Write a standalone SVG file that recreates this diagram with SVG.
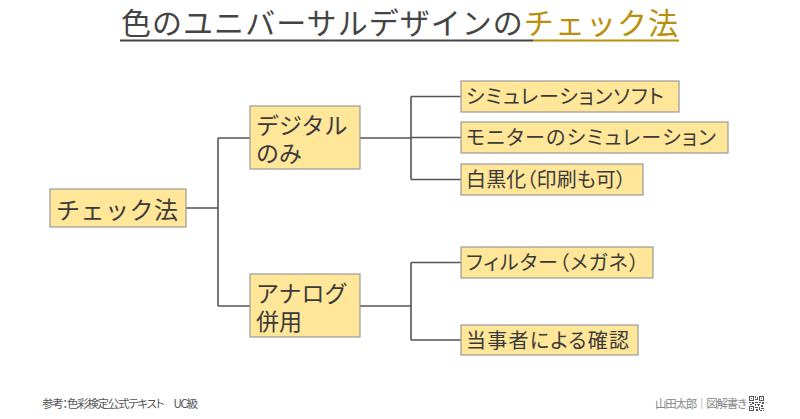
<svg xmlns="http://www.w3.org/2000/svg" width="800" height="419" viewBox="0 0 800 419">
<style>
  text { font-family: "Noto Sans CJK JP", "Noto Sans", sans-serif; }
  .box { fill: #FFE699; stroke: #9a9a9a; stroke-width: 1.2; }
  .t1 { font-size: 24px; fill: #3a3a3a; }
  .t2 { font-size: 23px; fill: #3a3a3a; }
  .t3 { font-size: 20px; fill: #3a3a3a; font-feature-settings: "palt"; }
  .conn { fill: none; stroke: #555; stroke-width: 1.6; }
  .foot { font-size: 11.5px; fill: #555; font-feature-settings: "palt"; }
</style>
<rect width="800" height="419" fill="#fff"/>

<g id="title">
  <text x="121" y="34" font-size="30" textLength="557" lengthAdjust="spacing" fill="#444">色のユニバーサルデザインの<tspan fill="#B8900B">チェック法</tspan></text>
  <line x1="120" y1="40.5" x2="533" y2="40.5" stroke="#444" stroke-width="2"/>
  <line x1="533" y1="40.5" x2="679" y2="40.5" stroke="#B8900B" stroke-width="2"/>
</g>

<g id="connectors">
  <path class="conn" d="M186 208 H218 M218 138 V306 M218 138 H250 M218 306 H250"/>
  <path class="conn" d="M360 138 H411 M411 96.5 V179.5 M411 96.5 H461 M411 137.5 H461 M411 179.5 H461"/>
  <path class="conn" d="M360 306 H411 M411 262.5 V340 M411 262.5 H461 M411 340 H461"/>
</g>

<g id="node-root">
  <rect class="box" x="50" y="189" width="136" height="38"/>
  <text class="t1" x="56" y="219" textLength="122" lengthAdjust="spacing">チェック法</text>
</g>
<g id="node-digital">
  <rect class="box" x="250" y="106" width="110" height="63"/>
  <text class="t2"><tspan x="256" y="133.5">デジタル</tspan><tspan x="256" y="162">のみ</tspan></text>
</g>
<g id="node-analog">
  <rect class="box" x="250" y="274" width="110" height="63"/>
  <text class="t2"><tspan x="256" y="301.5">アナログ</tspan><tspan x="256" y="330">併用</tspan></text>
</g>
<g id="node-sim-soft">
  <rect class="box" x="461" y="81" width="218" height="31"/>
  <text class="t3" x="466" y="104" textLength="198" lengthAdjust="spacing">シミュレーションソフト</text>
</g>
<g id="node-monitor">
  <rect class="box" x="461" y="122" width="267" height="31"/>
  <text class="t3" x="466" y="145" textLength="250" lengthAdjust="spacing">モニターのシミュレーション</text>
</g>
<g id="node-bw">
  <rect class="box" x="461" y="164" width="182" height="31"/>
  <text class="t3" x="466" y="187" textLength="160" lengthAdjust="spacing">白黒化（印刷も可）</text>
</g>
<g id="node-filter">
  <rect class="box" x="461" y="247" width="192" height="31"/>
  <text class="t3" x="466" y="270" textLength="173" lengthAdjust="spacing">フィルター（メガネ）</text>
</g>
<g id="node-person">
  <rect class="box" x="461" y="325" width="177" height="30"/>
  <text class="t3" x="466" y="347.5" textLength="163" lengthAdjust="spacing">当事者による確認</text>
</g>

<g id="footer">
  <text class="foot" x="42" y="407.5" textLength="156" lengthAdjust="spacing">参考：色彩検定公式テキスト　UC級</text>
  <text class="foot" x="655" y="408" textLength="92" lengthAdjust="spacing" style="fill:#888">山田太郎｜図解書き</text>
  <g fill="#555" transform="translate(749,396)">
    <path d="M0 0h5v5h-5z M1 1v3h3v-3z M10 0h5v5h-5z M11 1v3h3v-3z M0 10h5v5h-5z M1 11v3h3v-3z" fill-rule="evenodd"/>
    <rect x="2" y="2" width="1" height="1"/><rect x="12" y="2" width="1" height="1"/><rect x="2" y="12" width="1" height="1"/>
    <path d="M6 0h1v2h-1z M8 1h1v3h-1z M6 3h2v1h-2z M6 6h3v1h-3z M0 6h2v1h-2z M3 6h2v2h-2z M10 6h2v1h-2z M13 6h2v2h-2z M1 8h2v1h-2z M6 8h1v2h-1z M8 8h3v1h-3z M12 9h2v2h-2z M6 11h3v1h-3z M10 11h1v3h-1z M7 13h2v2h-2z M12 12h3v1h-3z M11 14h2v1h-2z M14 14h1v1h-1z M9 9h1v1h-1z"/>
  </g>
</g>
</svg>
